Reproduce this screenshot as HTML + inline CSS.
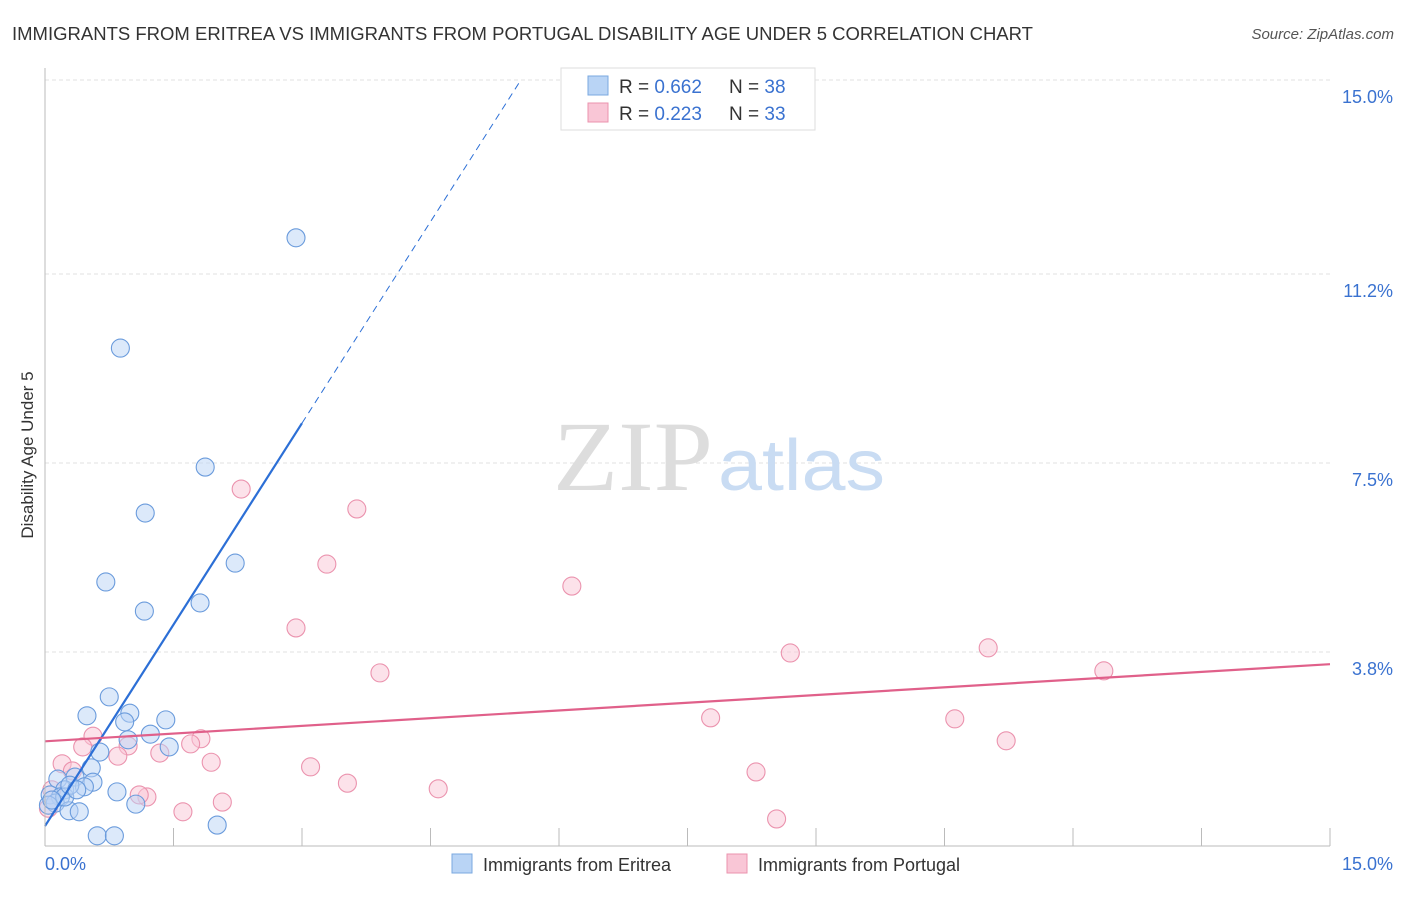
<!DOCTYPE html>
<html><head><meta charset="utf-8"><style>
body{margin:0;background:#fff;font-family:"Liberation Sans",sans-serif;}
svg text{font-family:"Liberation Sans",sans-serif;}
</style></head><body>
<svg id="chart" width="1406" height="892" xmlns="http://www.w3.org/2000/svg">
<text x="12" y="40" font-size="18" fill="#333" textLength="1021" lengthAdjust="spacingAndGlyphs">IMMIGRANTS FROM ERITREA VS IMMIGRANTS FROM PORTUGAL DISABILITY AGE UNDER 5 CORRELATION CHART</text>
<text x="1394" y="39" font-size="15" fill="#555" text-anchor="end" font-style="italic">Source: ZipAtlas.com</text>
<text x="33" y="455" font-size="17" fill="#333" text-anchor="middle" transform="rotate(-90 33 455)">Disability Age Under 5</text>
<g id="grid"></g>
<g><text x="553" y="490" font-size="100" fill="#ddd" style="font-family:'Liberation Serif',serif" textLength="160" lengthAdjust="spacingAndGlyphs">ZIP</text><text x="718" y="490" font-size="72" fill="#c9dcf3" textLength="167" lengthAdjust="spacingAndGlyphs">atlas</text></g>
<g id="pts"></g>
<g id="trend"></g>
<g id="axes"></g>
<g>
<rect x="561" y="68" width="254" height="62" fill="#fff" stroke="#ddd"/>
<rect x="588" y="76" width="20" height="19" fill="#b9d4f5" stroke="#7aa8e0"/>
<rect x="588" y="103" width="20" height="19" fill="#f9c6d6" stroke="#eb93ae"/>
<text x="619" y="93" font-size="19" fill="#333">R = <tspan fill="#3a72d0">0.662</tspan></text>
<text x="729" y="93" font-size="19" fill="#333">N = <tspan fill="#3a72d0">38</tspan></text>
<text x="619" y="120" font-size="19" fill="#333">R = <tspan fill="#3a72d0">0.223</tspan></text>
<text x="729" y="120" font-size="19" fill="#333">N = <tspan fill="#3a72d0">33</tspan></text>
</g>
<g>
<rect x="452" y="854" width="20" height="19" fill="#b9d4f5" stroke="#7aa8e0"/>
<text x="483" y="871" font-size="18" fill="#333">Immigrants from Eritrea</text>
<rect x="727" y="854" width="20" height="19" fill="#f9c6d6" stroke="#eb93ae"/>
<text x="758" y="871" font-size="18" fill="#333">Immigrants from Portugal</text>
</g>
</svg>
<script>
const yTicks=[3.8,7.5,11.2,15.0];
const yTickLabels=["3.8%","7.5%","11.2%","15.0%"];
const xEndLabels=["0.0%","15.0%"];
const eritreaX=[2.93,0.88,1.87,1.17,2.22,0.71,1.81,1.16,0.75,0.49,0.99,0.93,1.41,1.23,0.97,1.45,0.64,0.54,0.15,0.35,0.56,0.46,0.23,0.06,0.18,0.12,0.04,0.28,0.40,0.84,1.06,0.61,0.81,2.01,0.23,0.08,0.29,0.37];
const eritreaY=[11.91,9.75,7.42,6.52,5.54,5.17,4.76,4.60,2.92,2.55,2.60,2.43,2.47,2.19,2.08,1.94,1.84,1.53,1.31,1.35,1.25,1.16,1.10,1.00,0.96,0.84,0.80,0.69,0.67,1.06,0.82,0.20,0.20,0.41,0.96,0.90,1.19,1.10];
const portugalX=[2.29,3.64,3.29,6.15,2.93,3.91,8.70,11.01,12.36,7.77,10.62,11.22,8.30,8.54,0.56,0.97,1.82,1.70,0.85,1.34,0.44,0.20,0.32,1.94,3.10,3.53,4.59,2.07,1.61,1.19,1.10,0.08,0.04];
const portugalY=[6.99,6.60,5.52,5.09,4.27,3.39,3.78,3.88,3.43,2.51,2.49,2.06,1.45,0.53,2.15,1.96,2.10,2.00,1.76,1.82,1.94,1.61,1.47,1.64,1.55,1.23,1.12,0.86,0.67,0.96,1.00,1.10,0.74];
const eritreaTrend=[0.39,2.63]; // intercept, slope
const portugalTrend=[2.05,0.1007];
const X=v=>45+v*1285/15, Y=v=>846-v*766/15;
const NS="http://www.w3.org/2000/svg";
function mk(tag,attrs,parent){const e=document.createElementNS(NS,tag);for(const k in attrs)e.setAttribute(k,attrs[k]);parent.appendChild(e);return e;}
const grid=document.getElementById('grid'),axes=document.getElementById('axes'),pts=document.getElementById('pts'),tr=document.getElementById('trend');
yTicks.forEach((t,i)=>{
 const l=mk('line',{x1:45,x2:1330,y1:Y(t),y2:Y(t),stroke:'#e2e2e2','stroke-dasharray':'4,3'},grid);
 
 
 const tx=mk('text',{x:1393,y:Y(t)+23,'font-size':18,fill:'#3a72d0','text-anchor':'end'},axes);
 tx.textContent=yTickLabels[i];
 
 
});
mk('line',{x1:45,x2:45,y1:68,y2:846,stroke:'#bbb'},axes);
mk('line',{x1:45,x2:1330,y1:846,y2:846,stroke:'#bbb'},axes);
for(let i=1;i<=10;i++){const l=mk('line',{x1:X(i*1.5),x2:X(i*1.5),y1:828,y2:846,stroke:'#bbb'},axes);
 
 }
const xl0=mk('text',{x:45,y:870,'font-size':18,fill:'#3a72d0'},axes);xl0.textContent=xEndLabels[0];


const xl1=mk('text',{x:1393,y:870,'font-size':18,fill:'#3a72d0','text-anchor':'end'},axes);xl1.textContent=xEndLabels[1];


function dots(xs,ys,fill,stroke,name){xs.forEach((x,i)=>{const c=mk('circle',{cx:X(x),cy:Y(ys[i]),r:9,fill:fill,'fill-opacity':0.5,stroke:stroke,'stroke-width':1.1},pts);
 
 });}
dots(portugalX,portugalY,'#f9c6d6','#eb93ae','point-portugal');
dots(eritreaX,eritreaY,'#b9d4f5','#6a9bdc','point-eritrea');
const b0=eritreaTrend[0],b1=eritreaTrend[1];
const bl=mk('line',{x1:X(0),y1:Y(b0),x2:X(3),y2:Y(b0+3*b1),stroke:'#2c6fd6','stroke-width':2.2},tr);


const xe=(15-b0)/b1;
const bd=mk('line',{x1:X(3),y1:Y(b0+3*b1),x2:X(xe),y2:Y(15),stroke:'#2c6fd6','stroke-width':1,'stroke-dasharray':'7,5'},tr);


const pl=mk('line',{x1:X(0),y1:Y(portugalTrend[0]),x2:X(15),y2:Y(portugalTrend[0]+15*portugalTrend[1]),stroke:'#e0608a','stroke-width':2.2},tr);


</script>
</body></html>
